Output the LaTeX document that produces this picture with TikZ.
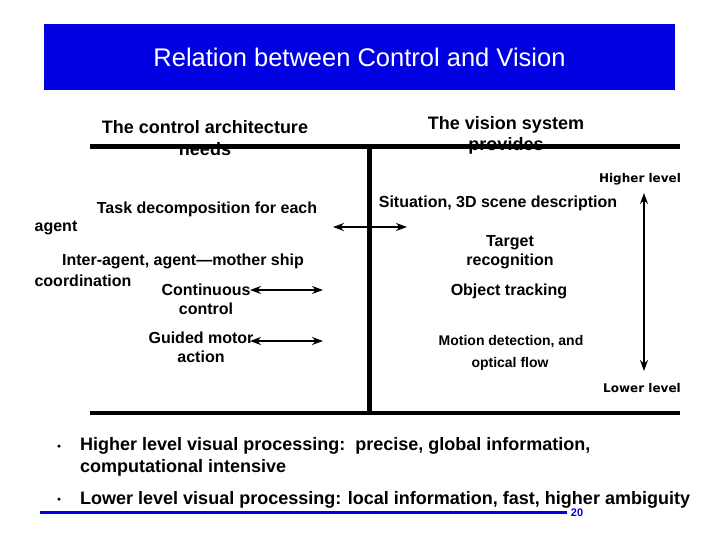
\documentclass[tikz,border=0pt]{standalone}
\usepackage{fontspec}
\setmainfont{Liberation Sans}
\newfontfamily\tah{DejaVu Sans}
\usetikzlibrary{arrows.meta}
\definecolor{tblue}{RGB}{0,0,225}
\begin{document}
\begin{tikzpicture}[x=1pt,y=-1pt,
  txt/.style={font=\fontsize{18}{21}\selectfont\bfseries,inner sep=0pt,align=center},
  mid/.style={font=\fontsize{16}{19}\selectfont\bfseries,inner sep=0pt,align=center},
  sm/.style={font=\fontsize{14}{16}\selectfont\bfseries,inner sep=0pt},
  lvl/.style={font=\tah\fontsize{12}{14}\selectfont\bfseries,inner sep=0pt},
  dbl/.style={{Stealth[length=11pt,width=8pt]}-{Stealth[length=11pt,width=8pt]},line width=1.6pt}]
\useasboundingbox (0,0) rectangle (720,540);
\node[fill=tblue,minimum width=631pt,minimum height=66pt,inner sep=0pt] (title) at (359.5,57) {};
\node[font=\fontsize{25.5}{28}\selectfont,text=white] (tt) at (359.5,57) {Relation between Control and Vision};
\coordinate (tl) at (90,147); \coordinate (tr) at (680,147);
\coordinate (vt) at (369,145); \coordinate (vb) at (369,415);
\coordinate (bl) at (90,413); \coordinate (br) at (680,413);
\draw[line width=5pt] (tl) -- (tr);
\draw[line width=5pt] (vt) -- (vb);
\draw[line width=4pt] (bl) -- (br);
\node[txt] (c1) at (205,127) {The control architecture};
\node[txt] (c2) at (205,149) {needs};
\node[txt] (v1) at (506,125) {The vision system};
\node[txt] (v2) at (506,146) {provides};
\node[lvl] (hl) at (640,179) {Higher level};
\node[lvl] (ll) at (642,388) {Lower level};
\node[mid] (a1) at (207,209) {Task decomposition for each};
\node[mid] (a2) at (56,228) {agent};
\node[mid] (b1) at (183,261) {Inter-agent, agent—mother ship};
\node[mid] (b2) at (83,281) {coordination};
\node[mid] (cc) at (206,299.5) {Continuous\\control};
\node[mid] (gm) at (201,347.5) {Guided motor\\action};
\node[mid] (s1) at (498,203) {Situation, 3D scene description};
\node[mid] (tr1) at (510,252.5) {Target\\recognition};
\node[mid] (ot) at (509,291) {Object tracking};
\node[sm] (md) at (511,342) {Motion detection, and};
\node[sm] (of) at (510,364) {optical flow};
\coordinate (a1l) at (333,227); \coordinate (a1r) at (407,227);
\coordinate (a2l) at (250,290); \coordinate (a2r) at (323,290);
\coordinate (a3l) at (250,341); \coordinate (a3r) at (323,341);
\coordinate (vu) at (644,193); \coordinate (vd) at (644,371);
\draw[dbl] (a1l) -- (a1r);
\draw[dbl] (a2l) -- (a2r);
\draw[dbl] (a3l) -- (a3r);
\draw[dbl] (vu) -- (vd);
\node[circle,fill=black,inner sep=0pt,minimum size=3.5pt] (d1) at (59,446) {};
\node[circle,fill=black,inner sep=0pt,minimum size=3.5pt] (d2) at (59,499) {};
\node[txt,anchor=west,align=left] (p1) at (80,446) {Higher level visual processing:\ \ precise, global information,};
\node[txt,anchor=west,align=left] (p2) at (80,468) {computational intensive};
\node[txt,anchor=west,align=left] (p3) at (80,500) {Lower level visual processing: local information, fast, higher ambiguity};
\coordinate (ul) at (40,512); \coordinate (ur) at (567,512);
\draw[tblue,line width=3pt] (ul) -- (ur);
\node[font=\fontsize{11}{13}\selectfont\bfseries,text=tblue,inner sep=0pt] (pg) at (577,513) {20};
\end{tikzpicture}
\end{document}
